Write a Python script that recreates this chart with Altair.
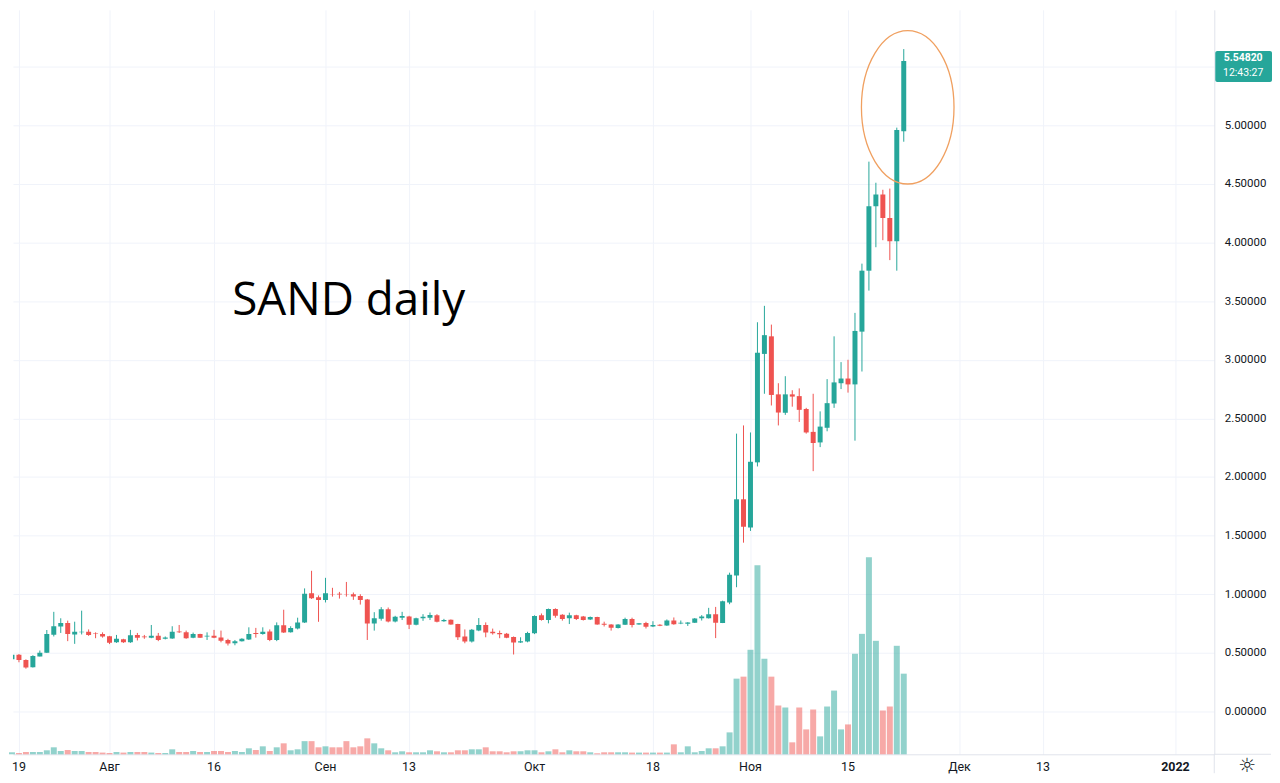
import altair as alt
import pandas as pd

# ---- daily candles, day index 0 = 19 Jul 2021 (first = 18 Jul) ----
opens = [.445,.485,.44,.378,.47,.50,.655,.724,.755,.657,.675,.68,.665,.66,.642,.59,.617,.59,.653,.64,
         .628,.645,.62,.622,.682,.676,.63,.66,.64,.645,.632,.61,.582,.60,.615,.67,.66,.682,.61,.735,
         .676,.707,.76,1.008,.975,.95,1.0,1.005,1.0,1.0,.985,.955,.75,.79,.873,.768,.80,.81,.74,.795,
         .80,.82,.77,.782,.746,.64,.597,.69,.738,.68,.67,.664,.636,.588,.596,.667,.82,.78,.874,.825,
         .795,.82,.81,.785,.806,.748,.742,.712,.74,.788,.742,.754,.725,.74,.734,.776,.75,.748,.757,.796,
         .796,.83,.754,.93,1.16,1.81,1.57,2.125,3.05,3.2,2.705,2.548,2.705,2.69,2.58,2.385,2.295,2.42,2.627,2.80,
         2.84,2.79,3.24,3.76,4.31,4.41,4.21,4.01,4.95]
highs = [.59,.49,.445,.48,.52,.695,.85,.795,.775,.766,.86,.70,.675,.675,.645,.653,.62,.696,.67,.653,
         .738,.67,.64,.727,.738,.69,.673,.663,.675,.696,.69,.62,.61,.625,.718,.713,.718,.70,.76,.868,
         .727,.80,1.05,1.2,.99,1.14,1.055,1.02,1.105,1.015,1.0,.96,.847,.89,.887,.816,.85,.816,.80,.83,
         .844,.83,.79,.785,.748,.70,.704,.797,.76,.707,.69,.67,.64,.633,.68,.82,.836,.878,.88,.83,
         .843,.825,.815,.81,.808,.766,.745,.745,.80,.80,.755,.765,.77,.745,.785,.802,.776,.762,.797,.822,
         .884,.892,.945,1.184,2.37,2.44,2.38,3.32,3.46,3.3,2.8,2.86,2.74,2.756,2.59,2.71,2.56,2.835,3.2,2.98,
         3.0,3.4,3.82,4.69,4.51,4.45,4.46,4.98,5.65]
lows = [.435,.42,.365,.375,.47,.50,.64,.67,.60,.577,.657,.645,.625,.63,.575,.585,.585,.585,.606,.62,
        .625,.60,.615,.62,.67,.62,.625,.627,.61,.625,.59,.563,.565,.597,.61,.63,.655,.60,.60,.67,
        .673,.70,.755,.96,.765,.93,.98,.963,.98,.952,.912,.61,.69,.775,.76,.76,.78,.703,.735,.773,
        .78,.76,.765,.74,.61,.582,.588,.685,.633,.656,.625,.625,.486,.585,.59,.66,.775,.752,.80,.775,
        .746,.78,.776,.78,.74,.725,.69,.708,.738,.717,.74,.708,.72,.728,.73,.74,.745,.73,.755,.776,
        .793,.626,.754,.915,1.06,1.44,1.54,2.09,2.71,2.61,2.44,2.53,2.6,2.47,2.37,2.05,2.255,2.39,2.59,2.75,
        2.72,2.31,2.9,3.59,3.96,4.02,3.85,3.76,4.86]
closes = [.485,.44,.375,.473,.50,.66,.727,.755,.66,.68,.68,.653,.66,.64,.586,.62,.59,.65,.628,.634,
          .645,.61,.632,.68,.675,.625,.662,.63,.645,.63,.603,.58,.60,.62,.662,.66,.68,.61,.735,.673,
          .712,.76,1.005,.966,.952,1.008,.997,.998,.997,.98,.95,.75,.796,.873,.768,.808,.815,.74,.796,.808,
          .824,.765,.78,.742,.633,.597,.698,.738,.673,.667,.658,.63,.588,.60,.67,.814,.78,.874,.817,.788,
          .82,.788,.78,.805,.743,.74,.714,.742,.788,.737,.753,.722,.738,.732,.776,.745,.757,.76,.793,.81,
          .83,.756,.94,1.167,1.81,1.576,2.13,3.06,3.21,2.70,2.55,2.705,2.686,2.573,2.38,2.29,2.43,2.63,2.807,2.84,
          2.79,3.246,3.76,4.31,4.41,4.21,4.01,4.96,5.5482]
# volume, millions (relative)
volumes = [10,6.5,11.5,11.5,11.5,20,35,16.5,21.5,16.5,16.5,11.5,11.5,8.5,6.5,11.5,8.5,11.5,11.5,11.5,
           8.5,6.5,6.5,25,11.5,11.5,16.5,11.5,11.5,16.5,16.5,11.5,16.5,11.5,30,21.5,40,16.5,35,55,
           20,25,66,66,35,40,35,35,66,35,40,80,55,30,20,10,15,10,10,10,
           20,15,10,10,20,20,25,25,35,15,15,10,15,15,20,20,10,15,25,10,
           20,15,15,10,5,10,10,10,10,8.5,8.5,8.5,8.5,8.5,8.5,50,10,40,10,16.5,
           30,30,40,110,380,390,525,950,480,390,245,235,60,235,125,225,90,240,320,125,
           150,505,605,990,570,220,240,545,405]

tick_days = [0, 13, 28, 44, 56, 74, 91, 105, 119, 135, 147, 166]
tick_labels = ["19", "Авг", "16", "Сен", "13", "Окт", "18", "Ноя", "15", "Дек", "13", "2022"]
price_ticks = [0, 0.5, 1, 1.5, 2, 2.5, 3, 3.5, 4, 4.5, 5, 5.5, 6]

title_text = ["SAND daily"]
title_day = [30.6]
title_price = [3.38]
ellipse_day = [127.57]
ellipse_price = [5.153]
last_time = "12:43:27"

TEAL = "#26a69a"
RED = "#ef5350"
GRID = "#f0f3fa"
LINE = "#e0e3eb"
FONT = "Roboto"
W, H = 1207, 748

df = pd.DataFrame({"day": list(range(-1, -1 + len(opens))),
                   "open": opens, "high": highs, "low": lows, "close": closes, "vol": volumes})
df["dir"] = ["up" if c >= o else "down" for o, c in zip(df["open"], df["close"])]

xscale = alt.Scale(domain=[-0.857, 171.571], nice=False, zero=False, padding=0)
xaxis = alt.Axis(values=tick_days, grid=True, gridColor=GRID, labels=False, ticks=False,
                 domainColor=LINE, title=None)
X = alt.X("day:Q", scale=xscale, axis=xaxis)
yscale = alt.Scale(domain=[-0.365, 5.985], nice=False, zero=False, padding=0)
# the 5.5 label sits under the last-price box, as in the reference
yaxis = alt.Axis(orient="right", values=price_ticks, format=".5f", grid=True, gridColor=GRID,
                 ticks=False, domainColor=LINE, labelColor="#131722", labelFont=FONT,
                 labelFontSize=11.5, labelPadding=10, title=None,
                 labelExpr="datum.value == 5.5 ? '' : datum.label")
color = alt.Color("dir:N", scale=alt.Scale(domain=["up", "down"], range=[TEAL, RED]), legend=None)

base = alt.Chart(df)
vol = base.mark_bar(size=6, opacity=0.5).encode(
    x=X, y=alt.Y("vol:Q", scale=alt.Scale(domain=[0, 3740], nice=False, padding=0), axis=None),
    color=color)
wick = base.mark_rule(strokeWidth=1, clip=True).encode(
    x=X, y=alt.Y("low:Q", scale=yscale, axis=yaxis), y2="high:Q", color=color)
body = base.mark_bar(size=5, clip=True).encode(
    x=X, y=alt.Y("open:Q", scale=yscale, axis=yaxis), y2="close:Q", color=color)

ttl = alt.Chart(pd.DataFrame({"day": title_day, "p": title_price, "t": title_text})).mark_text(
    align="left", baseline="alphabetic", font="Open Sans", fontSize=46, color="#000000").encode(
    x=X, y=alt.Y("p:Q", scale=yscale, axis=yaxis), text="t:N")

ell = alt.Chart(pd.DataFrame({"day": ellipse_day, "p": ellipse_price})).mark_point(
    shape="M -0.604 0 A 0.604 1 0 1 0 0.604 0 A 0.604 1 0 1 0 -0.604 0 Z",
    size=23716, filled=False, stroke="#f0a060", strokeWidth=1.3, opacity=1).encode(
    x=X, y=alt.Y("p:Q", scale=yscale, axis=yaxis))

last = pd.DataFrame({"day": [df["day"].iloc[-1]], "p": [closes[-1]],
                     "lbl": ["%.5f" % closes[-1]], "tm": [last_time]})
box = alt.Chart(last).mark_rect(color=TEAL, cornerRadius=2, yOffset=-10, y2Offset=21).encode(
    x=alt.value(W + 1), x2=alt.value(W + 58), y=alt.Y("p:Q", scale=yscale, axis=yaxis), y2="p:Q")
box_t1 = alt.Chart(last).mark_text(color="white", font=FONT, fontSize=10.5, fontWeight="bold",
                                   baseline="middle", align="center", dy=-3).encode(
    x=alt.value(W + 29), y=alt.Y("p:Q", scale=yscale, axis=yaxis), text="lbl:N")
box_t2 = alt.Chart(last).mark_text(color="white", font=FONT, fontSize=10.5,
                                   baseline="middle", align="center", dy=12).encode(
    x=alt.value(W + 29), y=alt.Y("p:Q", scale=yscale, axis=yaxis), text="tm:N")

ticks_df = pd.DataFrame({"day": tick_days, "lbl": tick_labels})
xl_norm = alt.Chart(ticks_df).transform_filter("datum.lbl != '2022'").mark_text(
    font=FONT, fontSize=12.5, color="#131722", baseline="middle").encode(
    x=X, y=alt.value(H + 13), text="lbl:N")
xl_bold = alt.Chart(ticks_df).transform_filter("datum.lbl == '2022'").mark_text(
    font=FONT, fontSize=12.5, color="#131722", fontWeight="bold", baseline="middle").encode(
    x=X, y=alt.value(H + 13), text="lbl:N")

vline = alt.Chart(last).mark_rule(color=LINE).encode(
    x=alt.value(W), y=alt.value(H), y2=alt.value(H + 19))
hline = alt.Chart(last).mark_rule(color=LINE).encode(
    x=alt.value(W), x2=alt.value(W + 57), y=alt.value(H))
gear = alt.Chart(last).mark_text(text="☼", font="DejaVu Sans", fontSize=20, color="#131722",
                                 baseline="middle").encode(x=alt.value(W + 33), y=alt.value(H + 12))

price_layers = alt.layer(wick, body, ttl, ell, box, box_t1, box_t2, xl_norm, xl_bold, vline, hline, gear)
chart = alt.layer(vol, price_layers).resolve_scale(y="independent").properties(
    width=W, height=H, padding=0, background="white"
).configure_view(strokeWidth=0)

chart.save("out.html", embed_options={"renderer": "svg", "actions": False})
